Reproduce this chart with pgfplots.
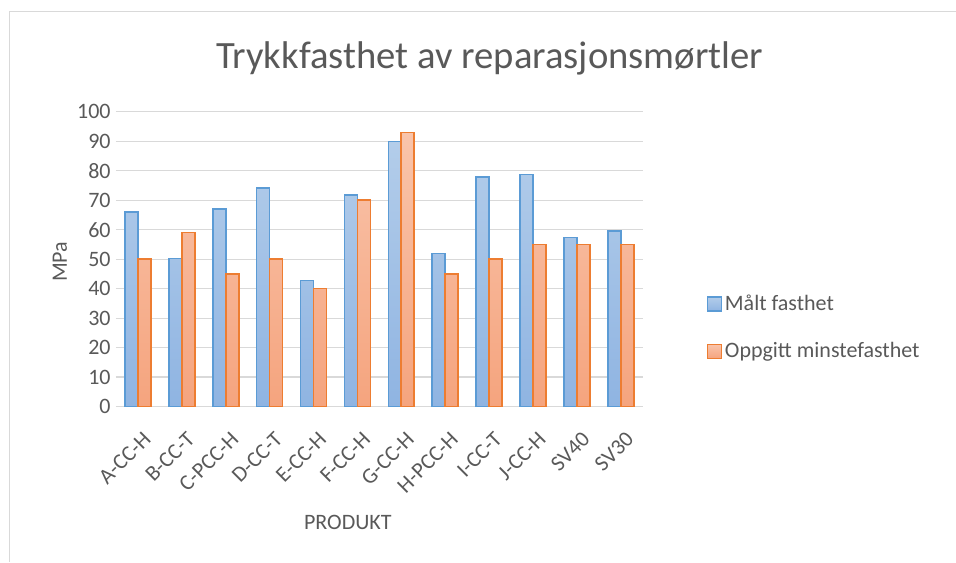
\documentclass[border=0pt]{standalone}
\usepackage{pgfplots}
\pgfplotsset{compat=1.18}
\usepackage{fontspec}
\setmainfont{Carlito}
\definecolor{txt}{HTML}{595959}
\definecolor{gridc}{HTML}{D9D9D9}
\definecolor{bluel}{HTML}{5B9BD5}
\definecolor{orangel}{HTML}{ED7D31}
\definecolor{bluetop}{HTML}{B3CDEA}
\definecolor{bluebot}{HTML}{8FB4E2}
\definecolor{orangetop}{HTML}{F9C4AB}
\definecolor{orangebot}{HTML}{F5A47E}
\begin{document}
\begin{tikzpicture}
\path (0pt,0pt) rectangle (717pt,421.5pt);
\draw[gridc, line width=0.75pt] (7.5pt,0pt) -- (7.5pt,412.5pt) -- (717pt,412.5pt);
\begin{axis}[
  at={(103.5pt,116.5pt)}, anchor=origin,
  scale only axis, width=395.25pt, height=221pt,
  ybar=0pt, bar width=9.75pt,
  xmin=-0.5, xmax=11.5, ymin=0, ymax=100,
  ytick={0,10,...,100},
  xtick=data,
  xticklabels={A-CC-H,B-CC-T,C-PCC-H,D-CC-T,E-CC-H,F-CC-H,G-CC-H,H-PCC-H,I-CC-T,J-CC-H,SV40,SV30},
  x tick label style={xshift=3pt, yshift=-13.5pt, rotate=45, anchor=north east, font=\fontsize{16.5}{18}\selectfont, text=txt, inner sep=0pt},
  y tick label style={font=\fontsize{16.5}{18}\selectfont, text=txt, xshift=-0.5pt},
  /pgf/number format/assume math mode=true,
  tick style={draw=none},
  ymajorgrids, grid style={gridc, line width=0.8pt},
  axis line style={draw=none},
  legend style={at={(443.25pt,85.75pt)}, anchor=north west, draw=none, fill=none, font=\fontsize{16.5}{18}\selectfont, text=txt, row sep=18.5pt, legend cell align=left, inner sep=0pt},
  legend image code/.code={\draw[#1, line width=1pt] (0pt,-5.25pt) rectangle (10.5pt,5.25pt);},
  clip=false,
]
\draw[gridc, line width=0.8pt] (axis cs:-0.5,0) -- (axis cs:11.5,0);
\addplot[draw=bluel, line width=1.2pt, top color=bluetop, bottom color=bluebot] coordinates {
(0,66) (1,50.2) (2,67) (3,74.2) (4,42.8) (5,71.8) (6,90) (7,51.9) (8,77.9) (9,78.7) (10,57.4) (11,59.6)};
\addplot[draw=orangel, line width=1.2pt, top color=orangetop, bottom color=orangebot] coordinates {
(0,50) (1,59) (2,45) (3,50) (4,40) (5,70) (6,93) (7,45) (8,50) (9,55) (10,55) (11,55)};
\legend{Målt fasthet, Oppgitt minstefasthet}
\end{axis}
\node[font=\fontsize{29}{32}\selectfont, text=txt] at (367.5pt,378pt) {Trykkfasthet av reparasjonsmørtler};
\node[font=\fontsize{16.5}{18}\selectfont, text=txt] at (261pt,29.25pt) {PRODUKT};
\node[font=\fontsize{16.5}{18}\selectfont, text=txt, rotate=90] at (45pt,225pt) {MPa};
\end{tikzpicture}
\end{document}
